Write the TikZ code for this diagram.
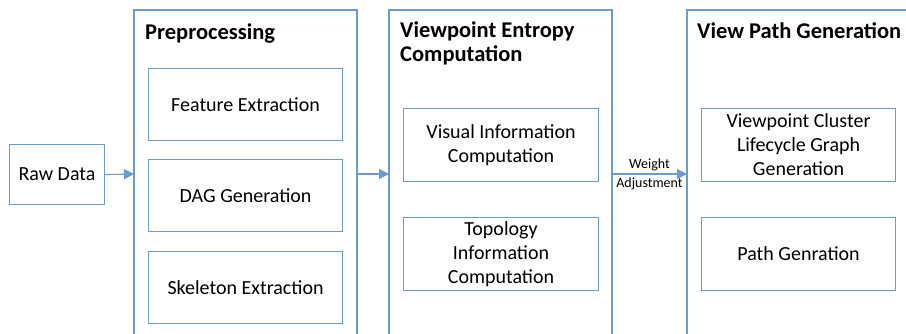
\documentclass[tikz,border=0pt]{standalone}
\usepackage{fontspec}
\setmainfont{Carlito}
\usetikzlibrary{arrows.meta}
\definecolor{bline}{RGB}{108,155,208}
\begin{document}
\begin{tikzpicture}[x=1pt,y=-1pt,
  box/.style={draw=bline,line width=1.1pt,fill=white,inner sep=0pt,anchor=north west,align=center,font=\fontsize{20}{24}\selectfont},
  cont/.style={draw=bline,line width=1.1pt},
  ttl/.style={anchor=base west,inner sep=0pt,font=\fontsize{22.5}{25}\selectfont\bfseries},
  arr/.style={draw=bline,line width=1.1pt,-{Triangle[length=10pt,width=10pt]}},
  lbl/.style={font=\fontsize{14}{16}\selectfont,inner sep=3pt}]
\useasboundingbox (0,0) rectangle (906,333);
\clip (0,0) rectangle (906,333);
% containers
\draw[cont] (134,345) |- (357,10) -- (357,345);
\coordinate (pL) at (134,174); \coordinate (pR) at (357,174);
\draw[cont] (389,345) |- (612,10) -- (612,345);
\coordinate (vL) at (389,174); \coordinate (vR) at (612,174);
\draw[cont] (687,345) |- (920,10);
\coordinate (gL) at (687,174);
% titles
\node[ttl] (t1) at (145,39) {Preprocessing};
\node[ttl] (t2a) at (400,37) {Viewpoint Entropy};
\node[ttl] (t2b) at (400,61) {Computation};
\node[ttl] (t3) at (697,38.5) {View Path Generation};
% boxes
\node[box,minimum width=95pt,minimum height=60pt] (raw) at (9,144) {Raw Data};
\node[box,minimum width=194pt,minimum height=72pt] (fe) at (148,68) {Feature Extraction};
\node[box,minimum width=194pt,minimum height=72pt] (dag) at (148,159) {DAG Generation};
\node[box,minimum width=194pt,minimum height=72pt] (sk) at (148,251) {Skeleton Extraction};
\node[box,minimum width=195pt,minimum height=73pt] (vis) at (403,108) {Visual Information\\Computation};
\node[box,minimum width=195pt,minimum height=73pt] (top) at (403,217) {Topology\\Information\\Computation};
\node[box,minimum width=194pt,minimum height=73pt] (vcl) at (701,108) {Viewpoint Cluster\\Lifecycle Graph\\Generation};
\node[box,minimum width=194pt,minimum height=73pt] (pg) at (701,217) {Path Genration};
% arrows
\draw[arr] (raw.east) -- (pL);
\draw[arr] (pR) -- (vL);
\draw[arr] (vR) -- node[lbl,above] {Weight} node[lbl,below] {Adjustment} (gL);
\end{tikzpicture}
\end{document}
